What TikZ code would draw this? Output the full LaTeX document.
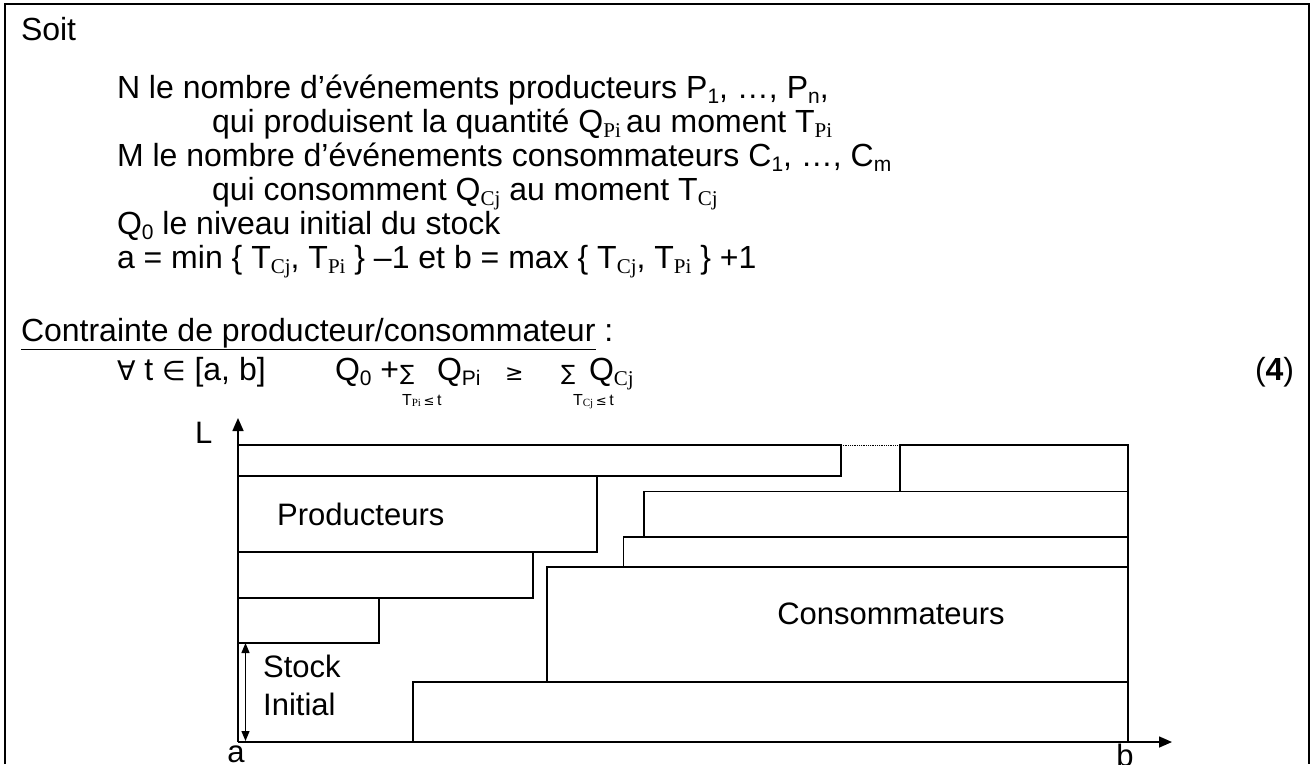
\documentclass[tikz,border=0pt]{standalone}
\usepackage{fontspec}
\setmainfont{Liberation Sans}
\newfontfamily\tms{Liberation Serif}
\newfontfamily\dv{DejaVu Sans}
\usetikzlibrary{arrows.meta}
\newcommand\subT[1]{\raisebox{-0.3ex}{\fontsize{21}{21}\selectfont\tms #1}}
\newcommand\subA[1]{\raisebox{-0.3ex}{\fontsize{21}{21}\selectfont #1}}
\newcommand\tinyT[1]{\raisebox{-0.2ex}{\fontsize{11}{11}\selectfont\tms #1}}
\newcommand\sym[2]{{\dv\fontsize{#1}{#1}\selectfont #2}}
\begin{document}
\begin{tikzpicture}[x=1pt,y=-1pt,
  txt/.style={anchor=base west,inner sep=0pt,outer sep=0pt,font=\fontsize{32}{36}\selectfont},
  lim/.style={anchor=base west,inner sep=0pt,outer sep=0pt,font=\fontsize{16}{17}\selectfont},
  lbl/.style={inner sep=0pt,font=\fontsize{31}{37}\selectfont},
  bx/.style={draw,line width=1.6pt},
  axis/.style={line width=1.6pt,-{Triangle[length=13pt,width=11pt]}},
  frame/.style={line width=2.5pt}]
\useasboundingbox (0,0) rectangle (1312,764);
\draw[frame] (5,764) -- (5,4) -- (1309,4) -- (1309,764);
% text
\node[txt] (soit) at (21,40) {Soit};
\node[txt] (nl) at (117,98) {N le nombre d’événements producteurs P\subA{1}, …, P\subA{n},};
\node[txt] (q1) at (212,132) {qui produisent la quantité Q\subT{Pi}\,au moment T\subT{Pi}};
\node[txt] (ml) at (117,166) {M le nombre d’événements consommateurs C\subA{1}, …, C\subA{m}};
\node[txt] (q2) at (212,200) {qui consomment Q\subT{Cj} au moment T\subT{Cj}};
\node[txt] (q0) at (117,234) {Q\subA{0} le niveau initial du stock};
\node[txt] (ab) at (117,268) {a = min \{ T\subT{Cj}, T\subT{Pi} \} –1 et b = max \{ T\subT{Cj}, T\subT{Pi} \} +1};
\node[txt] (ct) at (21,341) {\underline{Contrainte de producteur/consommateur} :};
\node[txt] (fa) at (117,380) {\sym{27}{∀} t \sym{27}{∈} [a, b]};
\node[txt] (lhs) at (335,380) {Q\subA{0} +};
\node[txt] (s1) at (400,380) {\sym{21}{∑}};
\node[txt] (qpi) at (437,380) {Q\subA{Pi}};
\node[txt] (ge) at (505,380) {\sym{22}{≥}};
\node[txt] (s2) at (561,380) {\sym{21}{∑}};
\node[txt] (qcj) at (589,380) {Q\subT{Cj}};
\node[lim] (l1) at (402,405) {T\tinyT{Pi}\,\sym{13}{≤}\,t};
\node[lim] (l2) at (573,405) {T\tinyT{Cj}\,\sym{13}{≤}\,t};
\node[txt] (eq) at (1255,380) {(\textbf{4})};
% chart
\coordinate (O) at (238,742);
\coordinate (ytop) at (238,418);
\coordinate (xend) at (1172,742);
\draw[axis] (O) -- (ytop);
\draw[axis] (O) -- (xend);
\node[lbl,anchor=base west] (L) at (195,443) {L};
\node[lbl,anchor=north] (a) at (236,746) {a};
\node[lbl,anchor=north] (b) at (1125,744) {b};
% producers
\draw[bx] (238,445) rectangle (841,476);
\draw[bx] (238,476) rectangle (597,552);
\draw[bx] (238,552) rectangle (533,598);
\draw[bx] (238,598) rectangle (379,643);
\node[lbl,anchor=base west] (prod) at (277,525) {Producteurs};
\draw[line width=0.8pt,densely dotted] (841,445) -- (900,445);
% consumers
\draw[bx] (900,445) rectangle (1128,491.5);
\draw[bx] (644,491.5) rectangle (1128,537);
\draw[bx] (623.5,537) rectangle (1128,567);
\draw[bx] (547,567) rectangle (1128,682);
\draw[bx] (413,682) rectangle (1128,742);
\node[lbl,anchor=base] (cons) at (891,624) {Consommateurs};
% stock
\coordinate (s1) at (245.5,643);
\coordinate (s2) at (245.5,741);
\draw[line width=1.3pt,{Triangle[length=10pt,width=8pt]}-{Triangle[length=10pt,width=8pt]}] (s1) -- (s2);
\node[lbl,anchor=base west] (stock) at (263,677) {Stock};
\node[lbl,anchor=base west] (init) at (263,715) {Initial};
\end{tikzpicture}
\end{document}
